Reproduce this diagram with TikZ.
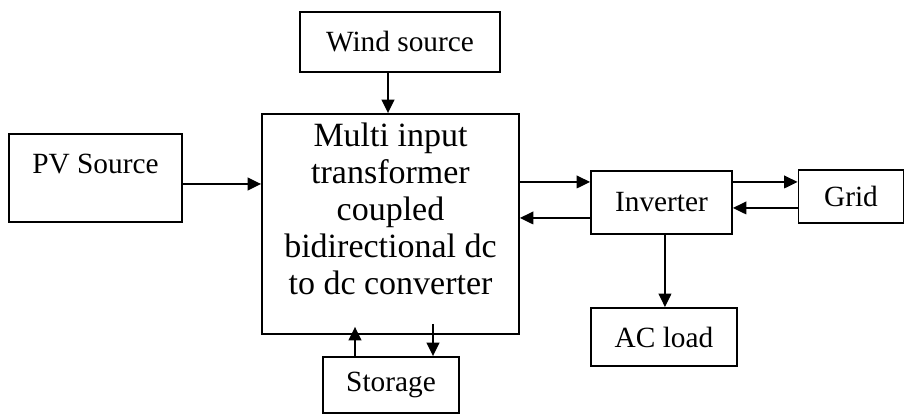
\documentclass[tikz,border=0pt]{standalone}
\usepackage{fontspec}
\setmainfont{Liberation Serif}
\usetikzlibrary{arrows.meta,calc}
\begin{document}
\begin{tikzpicture}[x=0.75pt,y=-0.75pt,
  blk/.style={draw=black,line width=1.4pt,inner sep=0pt,align=center,
    font=\fontsize{22}{27.75}\selectfont},
  arr/.style={line width=1.1pt,-{Triangle[length=10pt,width=9.5pt]}}]
\useasboundingbox (0,0) rectangle (908,416);
\node[blk,minimum width=150pt,minimum height=45pt] (wind) at (400,42) {Wind source};
\node[blk,minimum width=129.75pt,minimum height=66pt] (pv) at (95.5,178)
  {\parbox[c][66pt][t]{129pt}{\centering\vspace*{15pt}PV Source}};
\node[blk,minimum width=192.75pt,minimum height=165pt] (main) at (390.5,224)
  {\parbox[c][165pt][t]{192pt}{\centering\fontsize{25.5}{27.75}\selectfont\vspace*{4.6pt}\strut Multi input\\transformer\\coupled\\bidirectional dc\\to dc converter}};
\node[blk,minimum width=105.75pt,minimum height=47.25pt] (inv) at (661.5,202.5) {Inverter};
\node[blk,minimum width=78.75pt,minimum height=39.75pt] (grid) at (851,196.5) {Grid};
\node[blk,minimum width=109.5pt,minimum height=43.5pt] (ac) at (664,337) {AC load};
\node[blk,minimum width=102pt,minimum height=42pt] (st) at (391,385) {Storage};
% connectors
\draw[arr] ([xshift=-9pt]wind.south) -- ([xshift=-9pt]wind.south |- main.north);
\draw[arr] ([yshift=-4.5pt]pv.east) -- ([yshift=-4.5pt]pv.east -| main.west);
\draw[arr] ([yshift=15.4pt]inv.west -| main.east) -- ([yshift=15.4pt]inv.west);
\draw[arr] ([yshift=-11.6pt]inv.west) -- ([yshift=-11.6pt]inv.west -| main.east);
\draw[arr] ([yshift=15.4pt]inv.east) -- ([yshift=15.4pt]inv.east -| grid.west);
\draw[arr] ([yshift=-4.1pt]inv.east -| grid.west) -- ([yshift=-4.1pt]inv.east);
\draw[arr] ([xshift=2.6pt]inv.south) -- ([xshift=2.6pt]inv.south |- ac.north);
\draw[arr] ([xshift=-27pt]st.north) -- ([xshift=-27pt,yshift=6pt]st.north |- main.south);
\draw[arr] ([xshift=31.5pt,yshift=8.25pt]st.north |- main.south) -- ([xshift=31.5pt]st.north);
\end{tikzpicture}
\end{document}
